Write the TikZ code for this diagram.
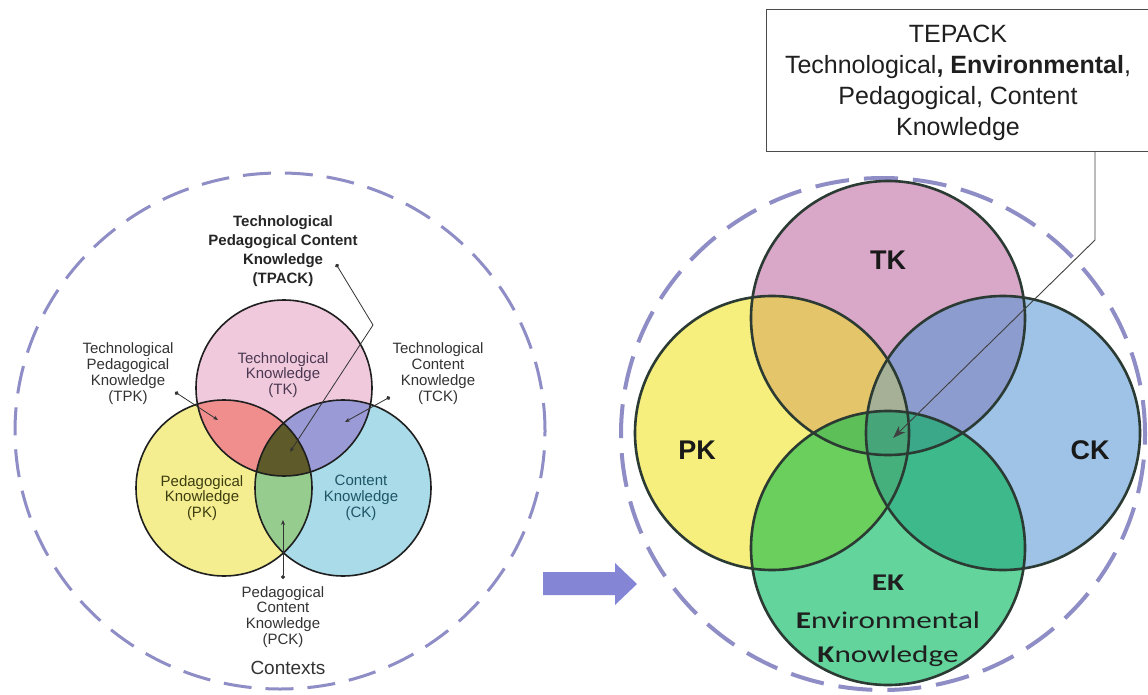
\documentclass[tikz,border=0pt]{standalone}
\usepackage{fontspec}
\setmainfont{Liberation Sans}
\newfontfamily\ekfont[FakeStretch=1.3]{Carlito}
\usetikzlibrary{arrows.meta}
% left colours
\definecolor{lTKc}{HTML}{F0C9DD}
\definecolor{lPKc}{HTML}{F4EE90}
\definecolor{lCKc}{HTML}{A9DBE9}
\definecolor{lTPc}{HTML}{F08E8E}
\definecolor{lTCc}{HTML}{9A9AD6}
\definecolor{lPCc}{HTML}{96CC8E}
\definecolor{lALLc}{HTML}{5E5A2A}
% right colours
\definecolor{rTKc}{HTML}{D9A7C8}
\definecolor{rPKc}{HTML}{F6EF7D}
\definecolor{rCKc}{HTML}{9EC3E6}
\definecolor{rEKc}{HTML}{62D49C}
\definecolor{rTPc}{HTML}{E5C56A}
\definecolor{rTCc}{HTML}{8C9CCF}
\definecolor{rTPCc}{HTML}{A6B096}
\definecolor{rPEc}{HTML}{6BCF5D}
\definecolor{rCEc}{HTML}{3DB98B}
\definecolor{rPCEc}{HTML}{46B07C}
\definecolor{rTPEc}{HTML}{5DBF58}
\definecolor{rTCEc}{HTML}{3AA889}
\definecolor{rALLc}{HTML}{47A57A}
\definecolor{dashc}{HTML}{8F8DC6}
\definecolor{arrowc}{HTML}{8585D6}
\definecolor{labgray}{HTML}{333333}
\definecolor{tkText}{HTML}{4A3850}
\definecolor{pkText}{HTML}{3E3E10}
\definecolor{ckText}{HTML}{1F5566}
\definecolor{rout}{HTML}{2B3B33}

\newcommand\LcTK{(284,388) circle[radius=88pt]}
\newcommand\LcPK{(224,488) circle[radius=88pt]}
\newcommand\LcCK{(343,488) circle[radius=88pt]}
\newcommand\RcTK{(888,318) circle[radius=137pt]}
\newcommand\RcPK{(772,433) circle[radius=137pt]}
\newcommand\RcCK{(1003,433) circle[radius=137pt]}
\newcommand\RcEK{(888,548) circle[radius=137pt]}

\begin{document}
\begin{tikzpicture}[x=1pt,y=-1pt,
  lab/.style={font=\fontsize{15}{15.8}\selectfont, align=center, inner sep=0pt, text=labgray},
  boldlab/.style={font=\fontsize{15}{19}\selectfont\bfseries, align=center, inner sep=0pt, text=black!85},
  lout/.style={draw=black!88, line width=1.6pt},
  routl/.style={draw=rout, line width=2.6pt},
  lead/.style={draw=black!80, line width=0.8pt, {Circle[length=4pt]}-{Stealth[length=5pt,width=4pt]}},
  rlead/.style={draw=black!75, line width=0.9pt, -{Stealth[length=13pt,width=9pt]}},
  dashring/.style={draw=dashc, dash pattern=on 28pt off 14pt},
  big/.style={font=\fontsize{27}{30}\selectfont\bfseries, inner sep=0pt, text=black!90},
  ektext/.style={font=\ekfont\fontsize{24}{28}\selectfont, inner sep=0pt, text=black!88, anchor=base},
  boxtext/.style={font=\fontsize{25}{31}\selectfont, align=center, inner sep=0pt, text=black!88}
]
\useasboundingbox (0,0) rectangle (1148,695);
\fill[white] (0,0) rectangle (1148,695);

% ---------------- left diagram ----------------
\draw[dashring, line width=3pt] (280,431) ellipse [x radius=265pt, y radius=258pt];

\fill[lTKc] \LcTK;
\fill[lPKc] \LcPK;
\fill[lCKc] \LcCK;
\begin{scope}\clip \LcPK; \fill[lTPc] \LcTK; \end{scope}
\begin{scope}\clip \LcCK; \fill[lTCc] \LcTK; \end{scope}
\begin{scope}\clip \LcCK; \fill[lPCc] \LcPK; \end{scope}
\begin{scope}\clip \LcCK; \clip \LcPK; \fill[lALLc] \LcTK; \end{scope}
\draw[lout] \LcTK;
\draw[lout] \LcPK;
\draw[lout] \LcCK;

\node[boldlab] (tpack) at (283,251.5) {Technological\\Pedagogical Content\\Knowledge\\(TPACK)};
\node[lab, text=tkText] (tkl) at (283,375) {Technological\\Knowledge\\(TK)};
\node[lab] (tpk) at (128,373.5) {Technological\\Pedagogical\\Knowledge\\(TPK)};
\node[lab] (tck) at (438,373.5) {Technological\\Content\\Knowledge\\(TCK)};
\node[lab, text=pkText] (pkl) at (202,498) {Pedagogical\\Knowledge\\(PK)};
\node[lab, text=ckText] (ckl) at (361,498) {Content\\Knowledge\\(CK)};
\node[lab] (pck) at (283,617) {Pedagogical\\Content\\Knowledge\\(PCK)};
\node[lab, font=\fontsize{19}{22}\selectfont] (ctx) at (288,668) {Contexts};

\coordinate (tpkA) at (175,392);
\coordinate (tpkB) at (218,420);
\coordinate (tckA) at (390,397);
\coordinate (tckB) at (345,422);
\coordinate (tpaA) at (336,264);
\coordinate (tpaK) at (373,325);
\coordinate (tpaB) at (290,452);
\coordinate (pckA) at (283,579);
\coordinate (pckB) at (283,520);
\draw[lead] (tpkA) -- (tpkB);
\draw[lead] (tckA) -- (tckB);
\draw[lead] (tpaA) -- (tpaK) -- (tpaB);
\draw[lead] (pckA) -- (pckB);

% ---------------- block arrow ----------------
\fill[arrowc] (543,572) -- (615,572) -- (615,563) -- (637,584) -- (615,605) -- (615,595) -- (543,595) -- cycle;

% ---------------- right diagram ----------------
\draw[dashring, line width=4pt, dash pattern=on 34pt off 15pt] (883,434) ellipse [x radius=262pt, y radius=256pt];

\fill[rTKc] \RcTK;
\fill[rPKc] \RcPK;
\fill[rCKc] \RcCK;
\fill[rEKc] \RcEK;
\begin{scope}\clip \RcPK; \fill[rTPc] \RcTK; \end{scope}
\begin{scope}\clip \RcCK; \fill[rTCc] \RcTK; \end{scope}
\begin{scope}\clip \RcPK; \clip \RcCK; \fill[rTPCc] \RcTK; \end{scope}
\begin{scope}\clip \RcPK; \fill[rPEc] \RcEK; \end{scope}
\begin{scope}\clip \RcCK; \fill[rCEc] \RcEK; \end{scope}
\begin{scope}\clip \RcPK; \clip \RcCK; \fill[rPCEc] \RcEK; \end{scope}
\begin{scope}\clip \RcTK; \clip \RcPK; \fill[rTPEc] \RcEK; \end{scope}
\begin{scope}\clip \RcTK; \clip \RcCK; \fill[rTCEc] \RcEK; \end{scope}
\begin{scope}\clip \RcTK; \clip \RcPK; \clip \RcCK; \fill[rALLc] \RcEK; \end{scope}
\draw[routl] \RcTK;
\draw[routl] \RcPK;
\draw[routl] \RcCK;
\draw[routl] \RcEK;

\node[big] (rtk) at (888,260) {TK};
\node[big] (rpk) at (697,450) {PK};
\node[big] (rck) at (1090,450) {CK};
\node[ektext] (rek) at (888,590) {\bfseries EK};
\node[ektext] (renv) at (888,628) {\textbf{E}nvironmental};
\node[ektext] (rknow) at (888,662) {\textbf{K}nowledge};

% TEPACK box
\draw[draw=black!70, line width=1pt, fill=white] (766,10) rectangle (1158,152);
\node[boxtext] (tepack) at (958,83) {TEPACK\\Technological\textbf{, Environmental},\\Pedagogical, Content\\Knowledge};

\coordinate (rl0) at (1095,152);
\coordinate (rl1) at (1095,240);
\coordinate (rl2) at (893,438);
\draw[rlead] (rl0) -- (rl1) -- (rl2);
\end{tikzpicture}
\end{document}
